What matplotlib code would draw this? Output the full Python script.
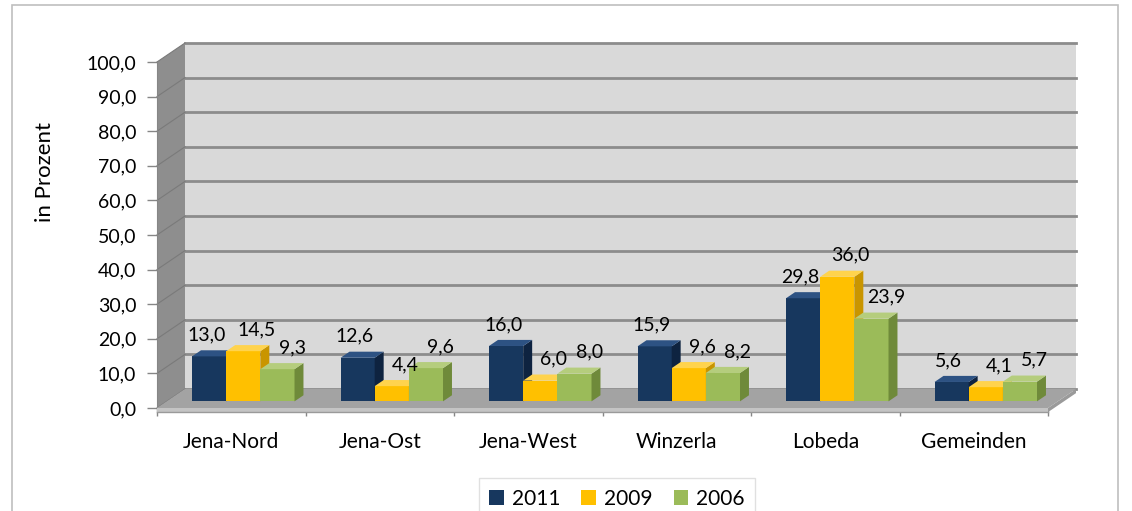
import matplotlib.pyplot as plt
from matplotlib.patches import Polygon, Rectangle, Patch

plt.rcParams['font.family'] = ['Lato', 'DejaVu Sans']

# Daten
kategorien = ['Jena-Nord', 'Jena-Ost', 'Jena-West', 'Winzerla', 'Lobeda', 'Gemeinden']
serien = ['2011', '2009', '2006']
werte_2011 = [13.0, 12.6, 16.0, 15.9, 29.8, 5.6]
werte_2009 = [14.5, 4.4, 6.0, 9.6, 36.0, 4.1]
werte_2006 = [9.3, 9.6, 8.0, 8.2, 23.9, 5.7]
yticks = [0, 10, 20, 30, 40, 50, 60, 70, 80, 90, 100]

werte = [werte_2011, werte_2009, werte_2006]
farbe_front = ['#17375e', '#ffc000', '#9bbb59']
farbe_seite = ['#0e2340', '#c99500', '#6f8a3a']
farbe_oben = ['#2d5283', '#ffd34d', '#b5cd7d']
label_dx = [-0.05, 0.06, 0.07]

W, H = 1132, 511
fig = plt.figure(figsize=(W / 100, H / 100), dpi=100)
fig.patch.set_facecolor('white')

# aeusserer Rahmen
fig.patches.append(Rectangle((12 / W, -0.1), (1118 - 12) / W, 1.1 - 5 / H,
                             transform=fig.transFigure, fill=False,
                             edgecolor='#bfbfbf', lw=1.2))

ax = fig.add_axes([157 / W, (H - 408) / H, (1048 - 157) / W, (408 - 62) / H])
ax.patch.set_visible(False)
ax.set_xlim(0, 6)
ax.set_ylim(0, 100)

n = len(kategorien)
dx, dy = 28 / 148.5, 19 / 3.46      # Tiefe der Waende
fdx, fdy = 0.35 * dx, 0.35 * dy     # Abstand Balken von vorne
bdx, bdy = 0.32 * dx, 0.32 * dy     # Balkentiefe
w = 0.23
start = 0.17
t = 1.2                              # Bodendicke

# Rueckwand
ax.add_patch(Polygon([(dx, dy), (n + dx, dy), (n + dx, 100 + dy), (dx, 100 + dy)],
                     closed=True, facecolor='#d9d9d9', edgecolor='none', zorder=1, clip_on=False))
for v in yticks:
    ax.plot([dx, n + dx], [v + dy, v + dy], color='#8c8c8c', lw=2, zorder=1.5, clip_on=False)
# Seitenwand
ax.add_patch(Polygon([(0, 0), (dx, dy), (dx, 100 + dy), (0, 100)],
                     closed=True, facecolor='#8e8e8e', edgecolor='none', zorder=2, clip_on=False))
for v in yticks:
    ax.plot([0, dx], [v, v + dy], color='#7a7a7a', lw=0.8, zorder=2.1, clip_on=False)
# Boden
ax.add_patch(Polygon([(0, 0), (n, 0), (n + dx, dy), (dx, dy)],
                     closed=True, facecolor='#a3a3a3', edgecolor='none', zorder=3, clip_on=False))
ax.add_patch(Rectangle((0, -t), n, t, facecolor='#c4c4c4', edgecolor='none', zorder=3, clip_on=False))
ax.add_patch(Polygon([(n, -t), (n + dx, dy - t), (n + dx, dy), (n, 0)],
                     closed=True, facecolor='#9a9a9a', edgecolor='none', zorder=3, clip_on=False))

# Balken
for i in range(n):
    for j in range(len(serien)):
        v = werte[j][i]
        x0 = i + start + j * w + fdx
        y0 = fdy
        ax.add_patch(Rectangle((x0, y0), w, v, facecolor=farbe_front[j],
                               edgecolor='none', zorder=4, clip_on=False))
        ax.add_patch(Polygon([(x0 + w, y0), (x0 + w + bdx, y0 + bdy),
                              (x0 + w + bdx, y0 + v + bdy), (x0 + w, y0 + v)],
                             closed=True, facecolor=farbe_seite[j], edgecolor='none',
                             zorder=4, clip_on=False))
        ax.add_patch(Polygon([(x0, y0 + v), (x0 + w, y0 + v),
                              (x0 + w + bdx, y0 + v + bdy), (x0 + bdx, y0 + v + bdy)],
                             closed=True, facecolor=farbe_oben[j], edgecolor='none',
                             zorder=4, clip_on=False))
        ax.text(x0 + w / 2 + bdx / 2 + label_dx[j], y0 + v + bdy + 2,
                f'{v:.1f}'.replace('.', ','), ha='center', va='bottom',
                fontsize=14, color='#000000', zorder=10)

# Achsen
for s in ['top', 'right', 'bottom']:
    ax.spines[s].set_visible(False)
ax.spines['left'].set_color('#868686')
ax.set_yticks(yticks)
ax.set_yticklabels([f'{v:.1f}'.replace('.', ',') for v in yticks], fontsize=14)
ax.tick_params(axis='y', length=7, width=1, color='#868686', pad=8)
ax.set_xticks(range(n + 1))
ax.set_xticklabels([''] * (n + 1))
ax.set_xticks([i + 0.5 for i in range(n)], minor=True)
ax.set_xticklabels(kategorien, minor=True, fontsize=15)
ax.tick_params(axis='x', which='minor', length=0, pad=17)
ax.tick_params(axis='x', which='major', length=6, width=1, color='#868686')
ax.plot([0, n], [-t, -t], color='#9a9a9a', lw=1, zorder=3.5, clip_on=False)

fig.text(45 / W, 1 - 172 / H, 'in Prozent', rotation=90, ha='center', va='center', fontsize=16)

handles = [Patch(facecolor=c, edgecolor='none') for c in farbe_front]
fig.legend(handles, serien, loc='upper center', bbox_to_anchor=(617 / W, 1 - 468 / H),
           ncol=3, frameon=True, fancybox=False, edgecolor='#d9d9d9', fontsize=15,
           handlelength=0.7, handleheight=0.7, handletextpad=0.4, columnspacing=1.0,
           borderpad=0.5)

fig.savefig('out.png', dpi=100)
